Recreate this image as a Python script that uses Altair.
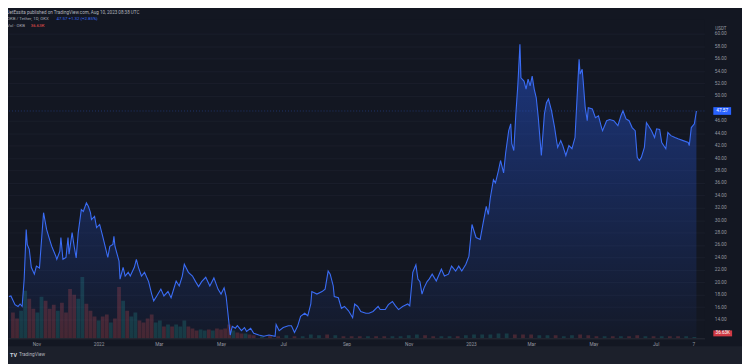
import altair as alt
import pandas as pd

# ---------------- data ----------------
price_dates = [
    "2021-10-05", "2021-10-07", "2021-10-11", "2021-10-14", "2021-10-16", "2021-10-18", "2021-10-20",
    "2021-10-22", "2021-10-23", "2021-10-25", "2021-10-27", "2021-10-30", "2021-11-01", "2021-11-04",
    "2021-11-08", "2021-11-11", "2021-11-13", "2021-11-16", "2021-11-20", "2021-11-21", "2021-11-24",
    "2021-11-25", "2021-11-27", "2021-11-30", "2021-12-02", "2021-12-03", "2021-12-06", "2021-12-08",
    "2021-12-10", "2021-12-12", "2021-12-15", "2021-12-17", "2021-12-20", "2021-12-22", "2021-12-24",
    "2021-12-25", "2021-12-28", "2021-12-30", "2022-01-02", "2022-01-05", "2022-01-10", "2022-01-12",
    "2022-01-15", "2022-01-16", "2022-01-17", "2022-01-21", "2022-01-22", "2022-01-25", "2022-01-27",
    "2022-01-30", "2022-02-01", "2022-02-05", "2022-02-07", "2022-02-09", "2022-02-12", "2022-02-15",
    "2022-02-19", "2022-02-22", "2022-02-24", "2022-02-27", "2022-03-03", "2022-03-06", "2022-03-10",
    "2022-03-13", "2022-03-18", "2022-03-21", "2022-03-24", "2022-03-26", "2022-03-30", "2022-04-03",
    "2022-04-06", "2022-04-09", "2022-04-12", "2022-04-16", "2022-04-20", "2022-04-24", "2022-04-28",
    "2022-05-01", "2022-05-04", "2022-05-06", "2022-05-08", "2022-05-10", "2022-05-12", "2022-05-15",
    "2022-05-17", "2022-05-21", "2022-05-24", "2022-05-26", "2022-05-30", "2022-06-02", "2022-06-07",
    "2022-06-12", "2022-06-17", "2022-06-23", "2022-06-24", "2022-06-27", "2022-07-01", "2022-07-06",
    "2022-07-09", "2022-07-12", "2022-07-15", "2022-07-18", "2022-07-22", "2022-07-25", "2022-07-28",
    "2022-07-29", "2022-08-03", "2022-08-08", "2022-08-11", "2022-08-14", "2022-08-16", "2022-08-19",
    "2022-08-20", "2022-08-24", "2022-08-27", "2022-08-30", "2022-09-03", "2022-09-07", "2022-09-09",
    "2022-09-12", "2022-09-15", "2022-09-20", "2022-09-23", "2022-09-27", "2022-10-02", "2022-10-04",
    "2022-10-09", "2022-10-12", "2022-10-16", "2022-10-19", "2022-10-22", "2022-10-26", "2022-10-31",
    "2022-11-02", "2022-11-05", "2022-11-08", "2022-11-10", "2022-11-12", "2022-11-14", "2022-11-16",
    "2022-11-19", "2022-11-21", "2022-11-24", "2022-11-28", "2022-12-03", "2022-12-06", "2022-12-10",
    "2022-12-13", "2022-12-17", "2022-12-20", "2022-12-23", "2022-12-27", "2022-12-30", "2023-01-02",
    "2023-01-06", "2023-01-10", "2023-01-13", "2023-01-16", "2023-01-18", "2023-01-20", "2023-01-23",
    "2023-01-25", "2023-01-28", "2023-01-30", "2023-02-02", "2023-02-04", "2023-02-07", "2023-02-09",
    "2023-02-10", "2023-02-12", "2023-02-14", "2023-02-16", "2023-02-18", "2023-02-19", "2023-02-22",
    "2023-02-24", "2023-02-26", "2023-02-28", "2023-03-02", "2023-03-04", "2023-03-06", "2023-03-08",
    "2023-03-11", "2023-03-14", "2023-03-16", "2023-03-18", "2023-03-21", "2023-03-24", "2023-03-26",
    "2023-03-27", "2023-03-30", "2023-04-01", "2023-04-04", "2023-04-07", "2023-04-10", "2023-04-13",
    "2023-04-15", "2023-04-17", "2023-04-18", "2023-04-20", "2023-04-21", "2023-04-23", "2023-04-25",
    "2023-04-26", "2023-04-30", "2023-05-03", "2023-05-06", "2023-05-09", "2023-05-10", "2023-05-14",
    "2023-05-17", "2023-05-21", "2023-05-25", "2023-05-28", "2023-05-30", "2023-06-02", "2023-06-05",
    "2023-06-08", "2023-06-11", "2023-06-13", "2023-06-15", "2023-06-17", "2023-06-20", "2023-06-22",
    "2023-06-24", "2023-06-27", "2023-06-30", "2023-07-02", "2023-07-05", "2023-07-07", "2023-07-11",
    "2023-07-13", "2023-07-16", "2023-07-20", "2023-07-23", "2023-07-28", "2023-08-02", "2023-08-03",
    "2023-08-05", "2023-08-08", "2023-08-10",
]
price_vals = [
    17.7, 17.8, 16.4, 16.1, 16.5, 16.1, 20.5,
    28.5, 26.1, 25.3, 22.4, 21.3, 22.6, 22.3,
    31.2, 28.5, 27.4, 25.8, 24.2, 23.7, 25.0,
    27.2, 23.7, 24.0, 27.2, 24.5, 28.0, 25.8,
    23.9, 28.0, 31.7, 31.4, 32.8, 32.2, 31.2,
    30.1, 30.6, 28.8, 29.3, 27.4, 24.0, 25.8,
    26.1, 27.4, 25.8, 23.4, 20.5, 22.4, 21.0,
    21.6, 21.0, 22.4, 23.7, 22.4, 21.0, 21.6,
    20.1, 18.1, 17.0, 17.8, 18.9, 17.8, 18.5,
    17.5, 20.2, 19.4, 21.0, 22.9, 21.6, 21.0,
    20.1, 19.3, 20.1, 20.8, 19.4, 20.7, 18.9,
    18.1, 19.1, 17.7, 14.6, 11.5, 12.9, 12.6,
    13.0, 12.2, 12.7, 12.1, 12.6, 11.8, 11.5,
    11.3, 11.5, 11.3, 13.2, 12.2, 12.7, 13.0,
    13.0, 11.9, 12.9, 14.5, 15.0, 14.6, 16.5,
    18.5, 18.1, 18.5, 18.9, 21.8, 21.3, 19.4,
    17.7, 17.5, 15.8, 16.1, 15.4, 14.3, 16.5,
    16.1, 15.3, 15.0, 15.0, 15.3, 16.1, 15.6,
    15.6, 16.4, 16.9, 16.2, 15.6, 16.1, 16.5,
    16.2, 21.6, 22.8, 20.5, 20.1, 18.1, 19.1,
    20.1, 20.5, 21.3, 20.2, 22.1, 21.0, 21.3,
    22.6, 21.8, 22.6, 21.8, 22.9, 24.2, 29.3,
    27.2, 26.9, 29.6, 32.2, 30.9, 33.6, 36.5,
    36.0, 38.0, 39.6, 37.6, 40.8, 44.4, 45.5,
    42.3, 41.2, 47.1, 51.9, 58.3, 52.9, 52.4,
    51.1, 52.7, 51.6, 53.2, 51.1, 49.7, 46.5,
    40.4, 47.1, 48.9, 49.5, 47.6, 44.9, 42.7,
    41.7, 42.8, 42.0, 40.4, 42.0, 41.5, 43.3,
    49.7, 55.9, 53.5, 54.3, 52.4, 48.1, 46.0,
    48.1, 47.9, 46.5, 46.8, 44.9, 44.4, 46.0,
    46.2, 46.0, 45.2, 46.8, 47.6, 46.3, 46.0,
    44.9, 44.4, 40.1, 39.6, 40.1, 41.7, 45.7,
    45.2, 44.4, 43.3, 44.7, 44.6, 42.5, 41.5,
    44.1, 43.6, 43.3, 43.1, 42.8, 42.5, 42.0,
    44.9, 45.5, 47.57,
]

# volume (thousands of OKB), early busy period
vol_dates = [
    "2021-10-09", "2021-10-13", "2021-10-17", "2021-10-21", "2021-10-25", "2021-10-29",
    "2021-11-02", "2021-11-06", "2021-11-10", "2021-11-14", "2021-11-18", "2021-11-22", "2021-11-26", "2021-11-30",
    "2021-12-04", "2021-12-08", "2021-12-12", "2021-12-16", "2021-12-20", "2021-12-24", "2021-12-28",
    "2022-01-01", "2022-01-05", "2022-01-09", "2022-01-13", "2022-01-17", "2022-01-21", "2022-01-25", "2022-01-29",
    "2022-02-02", "2022-02-06", "2022-02-10", "2022-02-14", "2022-02-18", "2022-02-22", "2022-02-26",
    "2022-03-02", "2022-03-06", "2022-03-10", "2022-03-14", "2022-03-18", "2022-03-22", "2022-03-26", "2022-03-30",
    "2022-04-03", "2022-04-07", "2022-04-11", "2022-04-15", "2022-04-19", "2022-04-23", "2022-04-27",
    "2022-05-01", "2022-05-05", "2022-05-09", "2022-05-13", "2022-05-17", "2022-05-21", "2022-05-25", "2022-05-29",
]
vol_k = [
    650, 500, 700, 1200, 1000, 750,
    650, 1050, 950, 750, 850, 700, 900, 650,
    1250, 1100, 1000, 1550, 875, 700, 550,
    450, 550, 600, 400, 500, 1300, 950, 700,
    550, 650, 450, 400, 500, 600, 400,
    450, 300, 350, 300, 350, 300, 450, 300,
    250, 200, 225, 200, 225, 200, 250,
    225, 250, 350, 200, 150, 125, 125, 100,
]
vol_dir = list("dduudd" + "uudddudd" + "dduuddd" + "udduddud" + "uuddddu"
               + "ududuuud" + "dduudud" + "ddduddud")

# volume, quiet period afterwards
tail_dates = [
    "2022-06-02", "2022-06-10", "2022-06-18", "2022-06-26", "2022-07-04", "2022-07-12", "2022-07-20", "2022-07-28",
    "2022-08-05", "2022-08-13", "2022-08-21", "2022-08-29", "2022-09-06", "2022-09-14", "2022-09-22", "2022-09-30",
    "2022-10-08", "2022-10-16", "2022-10-24", "2022-11-01", "2022-11-09", "2022-11-17", "2022-11-25",
    "2022-12-03", "2022-12-11", "2022-12-19", "2022-12-27", "2023-01-04", "2023-01-12", "2023-01-20", "2023-01-28",
    "2023-02-05", "2023-02-13", "2023-02-21", "2023-03-01", "2023-03-09", "2023-03-17", "2023-03-25",
    "2023-04-02", "2023-04-10", "2023-04-18", "2023-04-26", "2023-05-04", "2023-05-12", "2023-05-20", "2023-05-28",
    "2023-06-05", "2023-06-13", "2023-06-21", "2023-06-29", "2023-07-07", "2023-07-15", "2023-07-23", "2023-07-31",
    "2023-08-08",
]
tail_k = [
    75, 50, 75, 50, 75, 50, 50, 100, 75, 100, 75, 50,
    50, 50, 50, 50, 50, 50, 50,
    75, 100, 75, 50, 50, 50, 50, 75,
    100, 100, 100, 125, 125, 100, 100,
    100, 75, 75, 75, 50, 75, 100, 75,
    50, 50, 50, 50, 50, 75, 50, 50,
    50, 50, 50, 50, 37,
]
tail_dir = list("dudduduuudud" + "ddudduu" + "uudd" + "uudu" + "uuuu" + "udd" + "duud"
                + "uudd" + "dudu" + "ddud" + "uddu" + "u")

y_ticks = [14, 16, 18, 20, 22, 24, 26, 28, 30, 32, 34, 36, 38, 40, 42, 44, 46, 50, 52, 54, 56, 58, 60]
last_price = 47.57
last_vol_text = "36.63K"

header_text = "JetEssita published on TradingView.com, Aug 10, 2023 08:38 UTC"
symbol_text = "OKB / Tether, 1D, OKX"
price_text = "47.57  +1.32 (+2.85%)"
vol_text = "Vol · OKB"

# ---------------- layout / style ----------------
W, H = 704, 322
Y_MIN, Y_MAX = 10.97, 62.25
VOL_MAX = H * 25
BG = "#131722"
FONT = "Roboto"
LBL = "#9598a1"

price_df = pd.DataFrame({"date": price_dates, "price": price_vals})
n_early = min(len(vol_dates), len(vol_k), len(vol_dir))
n_tail = min(len(tail_dates), len(tail_k), len(tail_dir))
vdf = pd.DataFrame({
    "date": vol_dates[:n_early] + tail_dates[:n_tail],
    "vol": vol_k[:n_early] + tail_k[:n_tail],
    "dir": vol_dir[:n_early] + tail_dir[:n_tail],
})
one = pd.DataFrame({"p": [last_price]})

x_scale = alt.Scale(domain=[alt.DateTime(year=2021, month=10, date=9),
                            alt.DateTime(year=2023, month=8, date=13)])
x_axis = alt.Axis(
    values=[alt.DateTime(year=2021, month=11, date=1), alt.DateTime(year=2022, month=1, date=1),
            alt.DateTime(year=2022, month=3, date=1), alt.DateTime(year=2022, month=5, date=1),
            alt.DateTime(year=2022, month=7, date=1), alt.DateTime(year=2022, month=9, date=1),
            alt.DateTime(year=2022, month=11, date=1), alt.DateTime(year=2023, month=1, date=1),
            alt.DateTime(year=2023, month=3, date=1), alt.DateTime(year=2023, month=5, date=1),
            alt.DateTime(year=2023, month=7, date=1), alt.DateTime(year=2023, month=8, date=7)],
    labelExpr="month(datum.value) == 0 ? timeFormat(datum.value, '%Y') : (date(datum.value) == 7 ? '7' : timeFormat(datum.value, '%b'))",
    title=None, grid=False, ticks=False, domain=True, domainColor="#2a2e39",
    labelColor=LBL, labelFont=FONT, labelFontSize=4.8, labelPadding=3, labelFlush=False,
)
x_enc = alt.X("date:T", scale=x_scale, axis=x_axis)
y_scale = alt.Scale(domain=[Y_MIN, Y_MAX], zero=False, nice=False)

vol = alt.Chart(vdf).mark_bar(size=3.8, opacity=0.24, clip=True).encode(
    x=x_enc,
    y=alt.Y("vol:Q", scale=alt.Scale(domain=[0, VOL_MAX]), axis=None),
    color=alt.Color("dir:N", scale=alt.Scale(domain=["u", "d"], range=["#26a69a", "#ef5350"]), legend=None),
)

grad = alt.Gradient(
    gradient="linear",
    stops=[alt.GradientStop(color="rgba(41,98,255,0.42)", offset=0),
           alt.GradientStop(color="rgba(41,98,255,0.03)", offset=1)],
    x1=1, x2=1, y1=0, y2=1,
)
area = alt.Chart(price_df).mark_area(color=grad, clip=True).encode(
    x=x_enc,
    y=alt.Y("price:Q", scale=y_scale, axis=alt.Axis(
        orient="right", values=y_ticks, format=".2f", title=None, ticks=False, domain=False,
        labelColor=LBL, labelFont=FONT, labelFontSize=4.8, labelPadding=10, labelAlign="left",
        grid=True, gridColor="#1a1e2b", gridWidth=1)),
    y2=alt.datum(Y_MIN),
)
line = alt.Chart(price_df).mark_line(color="#3a6cf4", strokeWidth=1.1, clip=True).encode(
    x=x_enc, y=alt.Y("price:Q", scale=y_scale, axis=None),
)
price_rule = alt.Chart(one).mark_rule(color="rgba(58,108,244,0.45)", strokeDash=[1, 2], strokeWidth=0.8).encode(
    y=alt.Y("p:Q", scale=y_scale, axis=None),
)
price_box = alt.Chart(one).transform_calculate(hi="datum.p + 0.62", lo="datum.p - 0.62").mark_rect(
    color="#2962ff").encode(
    x=alt.value(713), x2=alt.value(731),
    y=alt.Y("hi:Q", scale=y_scale, axis=None), y2="lo:Q",
)
price_lbl = alt.Chart(one).mark_text(color="white", font=FONT, fontSize=4.8, align="center",
                                       baseline="middle").encode(
    x=alt.value(722), y=alt.Y("p:Q", scale=y_scale, axis=None), text=alt.Text("p:Q", format=".2f"),
)

row = pd.DataFrame({"a": [0]})


def txt(s, x, y, color, size=4.6, weight="normal", align="left"):
    return alt.Chart(row).mark_text(color=color, font=FONT, fontSize=size, fontWeight=weight,
                                    align=align, baseline="middle").encode(
        x=alt.value(x), y=alt.value(y), text=alt.value(s))


def box(x, x2, y, y2, color):
    return alt.Chart(row).mark_rect(color=color).encode(
        x=alt.value(x), x2=alt.value(x2), y=alt.value(y), y2=alt.value(y2))


bottom_strip = box(-20, 760, 330, 350, "#1c202b")
vol_box = box(713, 732, 314, 320, "#d03a45")

layers = [
    vol, area, line, price_rule, price_box, price_lbl,
    vol_box,
    txt(last_vol_text, 722.5, 317, "white", 4.6, align="center"),
    txt(header_text, -1, -7, "#b2b5be", 4.6),
    txt(symbol_text, -1, -1, "#a3a6af", 4.4),
    txt(price_text, 49, -1, "#3a6cf4", 4.4),
    txt(vol_text, -1, 6, "#a3a6af", 4.4),
    txt(last_vol_text, 23, 6, "#ef5350", 4.4),
    txt("USDT", 715, 9, LBL, 4.6),
    bottom_strip,
    txt("TV", 2, 339, "#d1d4dc", 5.5, "bold"),
    txt("TradingView", 11, 339, "#b2b5be", 4.8),
]

chart = alt.layer(*layers).resolve_scale(y="independent").properties(
    width=W, height=H,
    autosize=alt.AutoSizeParams(type="none"),
    padding={"left": 0, "top": 10, "right": 38, "bottom": 24},
    background=BG,
).configure_view(stroke=None, fill=BG)

chart.save("out.html", embed_options={"renderer": "svg", "actions": False})
